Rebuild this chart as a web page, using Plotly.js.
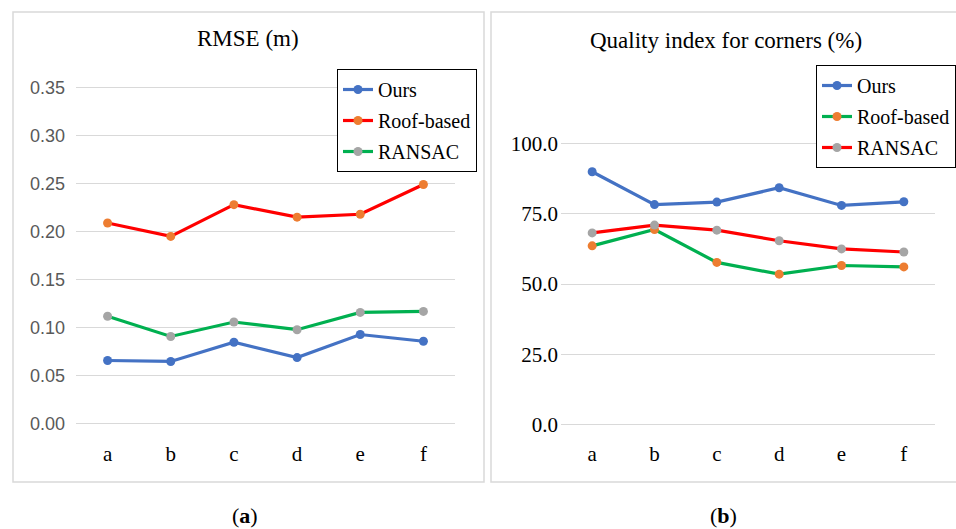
<!DOCTYPE html>
<html>
<head>
<meta charset="utf-8">
<script src="https://cdn.plot.ly/plotly-3.0.1.min.js"></script>
<style>html,body{margin:0;padding:0;background:#fff;}#chart{width:956px;height:529px;}</style>
</head>
<body>
<div id="chart"></div>
<script>
const categories = ['a', 'b', 'c', 'd', 'e', 'f'];
const seriesNames = ['Ours', 'Roof-based', 'RANSAC'];
const rmseOurs = [0.066, 0.065, 0.085, 0.069, 0.093, 0.086];
const rmseRoof = [0.209, 0.195, 0.228, 0.215, 0.218, 0.249];
const rmseRansac = [0.112, 0.091, 0.106, 0.098, 0.116, 0.117];
const qualOurs = [90.0, 78.3, 79.2, 84.3, 78.0, 79.3];
const qualRoof = [63.6, 69.4, 57.7, 53.5, 56.6, 56.1];
const qualRansac = [68.2, 71.0, 69.2, 65.4, 62.5, 61.4];
const titleA = 'RMSE (m)';
const titleB = 'Quality index for corners (%)';

const W = 956, H = 529;
const px = x => x / W;
const py = y => 1 - y / H;

const BLUE = '#4472C4', RED = '#FF0000', ORANGE = '#ED7D31', GREEN = '#00B050', GRAY = '#A5A5A5';
const SERIF = 'Liberation Serif, Times New Roman, serif';
const SANS = 'Liberation Sans, Arial, sans-serif';

function tr(y, name, lineColor, markerColor, xa, ya, legend) {
  return {
    x: categories, y: y, name: name, type: 'scatter', mode: 'lines+markers',
    xaxis: xa, yaxis: ya, legend: legend, legendgroup: legend + name,
    line: {color: lineColor, width: 3.2},
    marker: {color: markerColor, size: 9},
    hoverinfo: 'skip'
  };
}

const data = [
  tr(rmseOurs, seriesNames[0], BLUE, BLUE, 'x', 'y', 'legend'),
  tr(rmseRoof, seriesNames[1], RED, ORANGE, 'x', 'y', 'legend'),
  tr(rmseRansac, seriesNames[2], GREEN, GRAY, 'x', 'y', 'legend'),
  tr(qualOurs, seriesNames[0], BLUE, BLUE, 'x2', 'y2', 'legend2'),
  tr(qualRoof, seriesNames[1], GREEN, ORANGE, 'x2', 'y2', 'legend2'),
  tr(qualRansac, seriesNames[2], RED, GRAY, 'x2', 'y2', 'legend2')
];

const xCommon = {
  type: 'category', range: [-0.5, 5.5], showgrid: false, zeroline: false, showline: false,
  ticks: '', tickfont: {family: SERIF, size: 21, color: '#000'}, ticklabelstandoff: 13, fixedrange: true
};

const legendCommon = {
  bgcolor: '#fff', bordercolor: '#000', borderwidth: 1,
  font: {family: SERIF, size: 20, color: '#000'},
  xanchor: 'left', yanchor: 'top', tracegroupgap: 2, itemclick: false
};

const layout = {
  width: W, height: H,
  margin: {l: 0, r: 0, t: 0, b: 0, pad: 0},
  paper_bgcolor: '#fff', plot_bgcolor: 'rgba(0,0,0,0)',
  showlegend: true,
  xaxis: Object.assign({}, xCommon, {domain: [px(76), px(455)], anchor: 'y'}),
  yaxis: {
    domain: [py(425.9), py(85.4)], range: [-0.002, 0.352], anchor: 'x',
    dtick: 0.05, tick0: 0, tickformat: '.2f', showgrid: true, gridcolor: '#D9D9D9', gridwidth: 1,
    zeroline: false, showline: false, ticks: '', ticklabelstandoff: 10,
    tickfont: {family: SANS, size: 18, color: '#595959'}, fixedrange: true
  },
  xaxis2: Object.assign({}, xCommon, {domain: [px(561), px(935)], anchor: 'y2'}),
  yaxis2: {
    domain: [py(425.7), py(142.3)], range: [-0.5, 100.5], anchor: 'x2',
    dtick: 25, tick0: 0, tickformat: '.1f', showgrid: true, gridcolor: '#D9D9D9', gridwidth: 1,
    zeroline: false, showline: false, ticks: '', ticklabelstandoff: 2,
    tickfont: {family: SERIF, size: 21, color: '#000'}, fixedrange: true
  },
  legend: Object.assign({}, legendCommon, {x: px(337), y: py(69)}),
  legend2: Object.assign({}, legendCommon, {x: px(816), y: py(65)}),
  shapes: [
    {type: 'rect', xref: 'paper', yref: 'paper', x0: px(13), x1: px(484), y0: py(482), y1: py(12),
     line: {color: '#D9D9D9', width: 1.5}, layer: 'below'},
    {type: 'rect', xref: 'paper', yref: 'paper', x0: px(491), x1: px(970), y0: py(482), y1: py(12),
     line: {color: '#D9D9D9', width: 1.5}, layer: 'below'}
  ],
  annotations: [
    {text: titleA, xref: 'paper', yref: 'paper', x: px(248), y: py(38), xanchor: 'center', yanchor: 'middle',
     showarrow: false, font: {family: SERIF, size: 23, color: '#000'}},
    {text: titleB, xref: 'paper', yref: 'paper', x: px(726), y: py(40), xanchor: 'center', yanchor: 'middle',
     showarrow: false, font: {family: SERIF, size: 23, color: '#000'}},
    {text: '(<b>a</b>)', xref: 'paper', yref: 'paper', x: px(245), y: py(515), xanchor: 'center', yanchor: 'middle',
     showarrow: false, font: {family: SERIF, size: 22, color: '#000'}},
    {text: '(<b>b</b>)', xref: 'paper', yref: 'paper', x: px(723), y: py(515), xanchor: 'center', yanchor: 'middle',
     showarrow: false, font: {family: SERIF, size: 22, color: '#000'}}
  ]
};

Plotly.newPlot('chart', data, layout, {staticPlot: true, displayModeBar: false});
</script>
</body>
</html>
